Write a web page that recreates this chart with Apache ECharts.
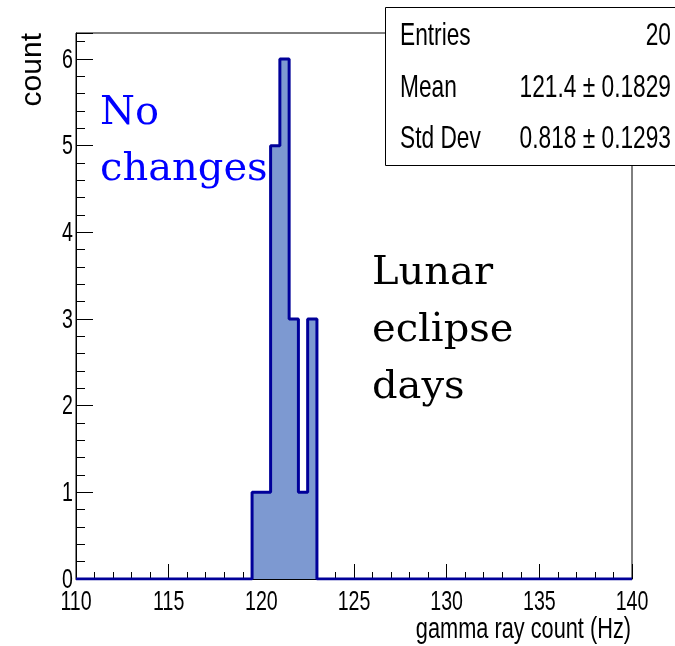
<!DOCTYPE html>
<html>
<head>
<meta charset="utf-8">
<script src="https://cdn.jsdelivr.net/npm/echarts@6/dist/echarts.min.js"></script>
<style>
  html, body { margin: 0; padding: 0; background: #fff; }
  #chart { width: 675px; height: 646px; }
</style>
</head>
<body>
<div id="chart"></div>
<script>
// Histogram binning: 60 bins of 0.5 Hz between 110 and 140 Hz
const binStart = 110;
const binWidth = 0.5;
const counts = [
  0, 0, 0, 0, 0, 0, 0, 0, 0, 0,
  0, 0, 0, 0, 0, 0, 0, 0, 0, 1,
  1, 5, 6, 3, 1, 3, 0, 0, 0, 0,
  0, 0, 0, 0, 0, 0, 0, 0, 0, 0,
  0, 0, 0, 0, 0, 0, 0, 0, 0, 0,
  0, 0, 0, 0, 0, 0, 0, 0, 0, 0
];

// Axis ranges, tick spacing and tick labels
const xRange = [110, 140];
const xMajorStep = 5;
const yRange = [0, 6.3];
const yMajorStep = 1;
const yMinorStep = 0.2;
const xTickLabels = [110, 115, 120, 125, 130, 135, 140];
const yTickLabels = [0, 1, 2, 3, 4, 5, 6];
const xTitle = 'gamma ray count (Hz)';
const yTitle = 'count';

// Statistics box contents
const statLabels = ['Entries', 'Mean', 'Std Dev'];
const statValues = ['20', '121.4 \u00b1 0.1829', '0.818 \u00b1 0.1293'];

// Annotations
const noteLeft = 'No\nchanges';
const noteRight = 'Lunar\neclipse\ndays';

// Step outline points: one point per bin edge, closed back to zero at the end
const histPoints = counts.map((c, i) => [binStart + i * binWidth, c]);
histPoints.push([binStart + counts.length * binWidth, 0]);

const sansFont = "'Liberation Sans', Arial, sans-serif";
const serifFont = "'DejaVu Serif', serif";

const chart = echarts.init(document.getElementById('chart'), null, { renderer: 'canvas' });

const option = {
  animation: false,
  backgroundColor: '#fff',
  grid: {
    left: 76, right: 43, top: 33, bottom: 67,
    show: true, borderColor: '#000', borderWidth: 1, backgroundColor: 'transparent'
  },
  xAxis: {
    type: 'value',
    min: xRange[0], max: xRange[1], interval: xMajorStep,
    axisLine: { show: true, onZero: false, lineStyle: { color: '#000', width: 1 } },
    axisTick: { show: true, inside: true, length: 15, lineStyle: { color: '#000', width: 1 } },
    minorTick: { show: true, splitNumber: 5, length: 7, lineStyle: { color: '#000', width: 1 } },
    splitLine: { show: false },
    minorSplitLine: { show: false },
    axisLabel: { show: false }
  },
  yAxis: [
    {
      type: 'value',
      min: yRange[0], max: yRange[1], interval: yMajorStep,
      position: 'left',
      name: yTitle,
      nameLocation: 'end',
      nameRotate: 90,
      nameGap: 0,
      nameTextStyle: {
        fontFamily: sansFont, fontSize: 30, color: '#000',
        align: 'right', verticalAlign: 'bottom', padding: [0, 0, 28, 0]
      },
      axisLine: { show: true, onZero: false, lineStyle: { color: '#000', width: 1 } },
      axisTick: { show: true, inside: true, length: 17, lineStyle: { color: '#000', width: 1 } },
      splitLine: { show: false },
      axisLabel: { show: false }
    },
    {
      type: 'value',
      min: yRange[0], max: yRange[1], interval: yMinorStep,
      position: 'left', offset: 0,
      axisLine: { show: false },
      axisTick: { show: true, inside: true, length: 9, lineStyle: { color: '#000', width: 1 } },
      splitLine: { show: false },
      axisLabel: { show: false }
    }
  ],
  series: [
    {
      type: 'line',
      yAxisIndex: 0,
      data: histPoints,
      step: 'end',
      symbol: 'none',
      lineStyle: { color: '#000099', width: 3 },
      areaStyle: { color: '#7d99d1', opacity: 1 },
      itemStyle: { color: '#000099' },
      z: 5
    }
  ]
};

chart.setOption(option);

// Text layer: tick labels placed through the axis scales, titles, stats box, notes
const g = [];
function sansText(text, x, y, size, squeeze, align, vAlign, z) {
  return {
    type: 'text', z: z || 50, x: x, y: y, scaleX: squeeze,
    style: { text: String(text), x: 0, y: 0, align: align, verticalAlign: vAlign,
             font: size + 'px ' + sansFont, fill: '#000' }
  };
}

const axisY = chart.convertToPixel({ yAxisIndex: 0 }, yRange[0]);
const axisX = chart.convertToPixel({ xAxisIndex: 0 }, xRange[0]);
xTickLabels.forEach(v => {
  g.push(sansText(v, chart.convertToPixel({ xAxisIndex: 0 }, v), axisY + 23, 28, 0.7, 'center', 'middle'));
});
yTickLabels.forEach(v => {
  g.push(sansText(v, axisX - 3, chart.convertToPixel({ yAxisIndex: 0 }, v) + 1, 28, 0.7, 'right', 'middle'));
});
const axisRight = chart.convertToPixel({ xAxisIndex: 0 }, xRange[1]);
g.push(sansText(xTitle, axisRight - 1, axisY + 51, 29, 0.75, 'right', 'middle'));

// Stats box
const statRowsY = [36, 88, 139];
g.push({
  type: 'rect', z: 100,
  shape: { x: 385.5, y: 7.5, width: 300, height: 158 },
  style: { fill: '#fff', stroke: '#000', lineWidth: 1 }
});
statLabels.forEach((label, i) => {
  g.push(sansText(label, 400, statRowsY[i], 32, 0.71, 'left', 'middle', 101));
  g.push(sansText(statValues[i], 671, statRowsY[i], 32, 0.71, 'right', 'middle', 101));
});

// Notes
g.push({
  type: 'text', z: 90, x: 100, y: 142,
  style: { text: noteLeft, x: 0, y: 0, align: 'left', verticalAlign: 'middle',
           font: '40px ' + serifFont, fill: '#0000ff', lineHeight: 56 }
});
g.push({
  type: 'text', z: 90, x: 372, y: 331,
  style: { text: noteRight, x: 0, y: 0, align: 'left', verticalAlign: 'middle',
           font: '40px ' + serifFont, fill: '#000', lineHeight: 57 }
});

chart.setOption({ graphic: g });
</script>
</body>
</html>
